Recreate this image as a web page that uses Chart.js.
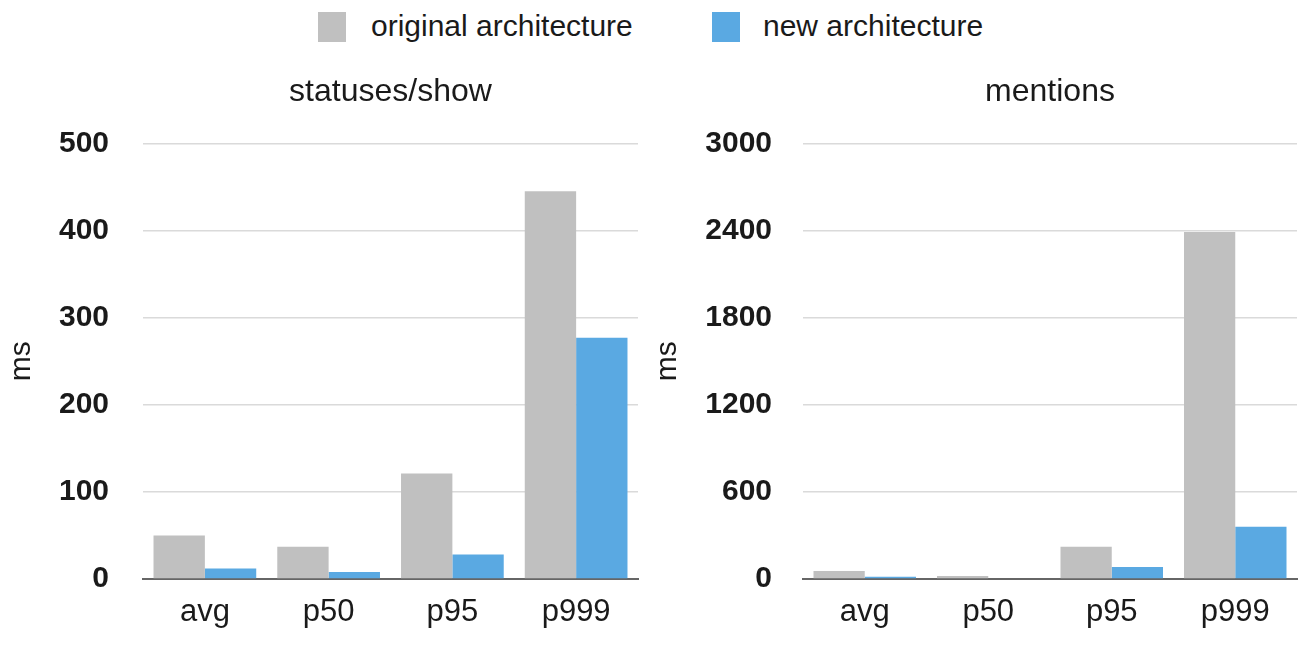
<!DOCTYPE html>
<html>
<head>
<meta charset="utf-8">
<script src="https://cdn.jsdelivr.net/npm/chart.js@4.4.1/dist/chart.umd.min.js"></script>
<style>
  html, body { margin: 0; padding: 0; background: #fff; }
  body { width: 1299px; height: 645px; position: relative; overflow: hidden;
         font-family: "Liberation Sans", Arial, Helvetica, sans-serif; color: #1a1a1a; }
  #legend { position: absolute; top: 0; left: 0; width: 1299px; height: 56px; }
  .key { position: absolute; top: 12px; width: 28px; height: 30px; }
  .lbl { position: absolute; top: 8px; font-size: 30px; line-height: 36px; white-space: nowrap; }
  canvas { position: absolute; top: 0; }
</style>
</head>
<body>
<div id="legend"></div>
<canvas id="left" width="650" height="645" style="left:0"></canvas>
<canvas id="right" width="649" height="645" style="left:650px"></canvas>
<script>
// latency percentiles, in milliseconds
const categories = ['avg', 'p50', 'p95', 'p999'];
const seriesNames = ['original architecture', 'new architecture'];

const statusesOriginal = [50, 37, 121, 445];
const statusesNew = [12, 8, 28, 277];

const mentionsOriginal = [55, 20, 222, 2390];
const mentionsNew = [15, 5, 82, 360];

const statusesTicks = [0, 100, 200, 300, 400, 500];
const mentionsTicks = [0, 600, 1200, 1800, 2400, 3000];

const GRAY = '#c0c0c0';
const BLUE = '#5aa9e2';
const FONT = '"Liberation Sans", Arial, Helvetica, sans-serif';
const TEXT = '#1a1a1a';

// shared legend across both panels
const legendEl = document.getElementById('legend');
[[seriesNames[0], GRAY, 318, 371], [seriesNames[1], BLUE, 712, 763]].forEach(([name, color, kx, tx]) => {
  const k = document.createElement('div');
  k.className = 'key'; k.style.left = kx + 'px'; k.style.background = color;
  const t = document.createElement('div');
  t.className = 'lbl'; t.style.left = tx + 'px'; t.textContent = name;
  legendEl.appendChild(k); legendEl.appendChild(t);
});

function makeChart(id, title, orig, fresh, ticks, axisWidth, labelPad, rightPad, msPad) {
  const maxTick = ticks[ticks.length - 1];
  const step = ticks[1] - ticks[0];
  return new Chart(document.getElementById(id), {
    type: 'bar',
    data: {
      labels: categories,
      datasets: [
        { label: seriesNames[0], data: orig, backgroundColor: GRAY, borderWidth: 0 },
        { label: seriesNames[1], data: fresh, backgroundColor: BLUE, borderWidth: 0 }
      ]
    },
    options: {
      responsive: false,
      animation: false,
      events: [],
      datasets: { bar: { categoryPercentage: 0.83, barPercentage: 1.0 } },
      layout: { padding: { left: 0, right: rightPad, top: 73, bottom: 0 } },
      plugins: {
        legend: { display: false },
        tooltip: { enabled: false },
        title: {
          display: true, text: title, color: TEXT, fullSize: false,
          font: { family: FONT, size: 32, weight: 'normal' },
          padding: { top: 0, bottom: 32 }
        }
      },
      scales: {
        x: {
          z: 1,
          grid: { display: false, drawTicks: false },
          border: { display: true, color: '#666', width: 2 },
          ticks: { color: TEXT, font: { family: FONT, size: 31 }, padding: 15 },
          afterFit: s => { s.height = 66; }
        },
        y: {
          min: 0, max: maxTick,
          afterBuildTicks: s => { s.ticks = ticks.map(v => ({ value: v })); },
          ticks: {
            stepSize: step, color: TEXT, padding: labelPad,
            font: { family: FONT, size: 30, weight: 'bold' },
            callback: v => String(v)
          },
          grid: {
            drawTicks: false, lineWidth: 1.5,
            color: c => (c.tick && c.tick.value === 0) ? 'rgba(0,0,0,0)' : '#dadada'
          },
          border: { display: false },
          title: { display: true, text: 'ms', color: TEXT, font: { family: FONT, size: 30 }, padding: { top: msPad, bottom: 0 } },
          afterFit: s => { s.width = axisWidth; }
        }
      }
    }
  });
}

makeChart('left', 'statuses/show', statusesOriginal, statusesNew, statusesTicks, 143, 34, 12, 4);
makeChart('right', 'mentions', mentionsOriginal, mentionsNew, mentionsTicks, 153, 31, 2, 0);
</script>
</body>
</html>
